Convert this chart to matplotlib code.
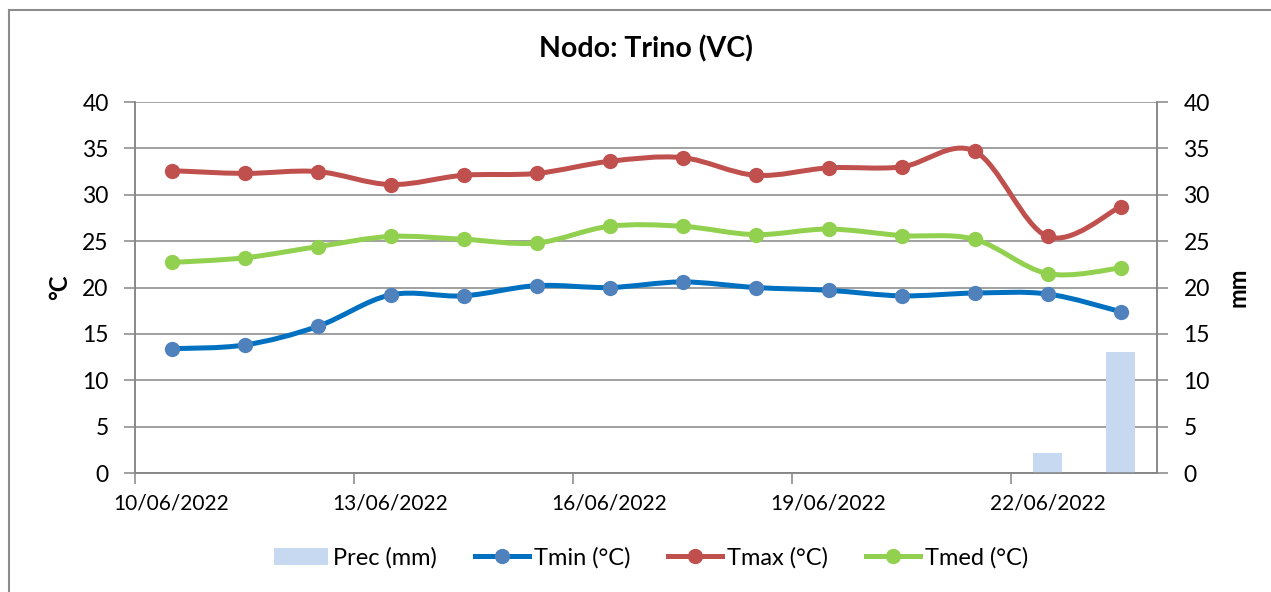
import matplotlib
matplotlib.use("Agg")
import matplotlib.pyplot as plt
import numpy as np
from matplotlib.path import Path
from matplotlib.patches import PathPatch, Patch
from matplotlib.lines import Line2D

plt.rcParams['font.family'] = ['Lato', 'DejaVu Sans']

dates = ["10/06/2022", "11/06/2022", "12/06/2022", "13/06/2022", "14/06/2022",
         "15/06/2022", "16/06/2022", "17/06/2022", "18/06/2022", "19/06/2022",
         "20/06/2022", "21/06/2022", "22/06/2022", "23/06/2022"]
prec = [0, 0, 0, 0, 0, 0, 0, 0, 0, 0, 0, 0, 2.2, 13.0]
tmin = [13.4, 13.8, 15.8, 19.2, 19.1, 20.2, 20.0, 20.6, 20.0, 19.7, 19.1, 19.4, 19.3, 17.4]
tmax = [32.6, 32.3, 32.5, 31.1, 32.1, 32.3, 33.6, 34.0, 32.1, 32.9, 33.0, 34.7, 25.5, 28.7]
tmed = [22.7, 23.2, 24.4, 25.5, 25.2, 24.8, 26.6, 26.6, 25.7, 26.3, 25.6, 25.2, 21.5, 22.1]

GRAY = '#868686'
FS = 16.5

fig = plt.figure(figsize=(12.71, 5.92), dpi=100)
W, H = 1271, 592
ax2 = fig.add_axes([135 / W, 1 - 473 / H, (1157 - 135) / W, (473 - 102) / H])
ax = ax2.twinx()
ax.set_zorder(ax2.get_zorder() + 1)
ax.patch.set_visible(False)

x = np.arange(len(dates))

# bars (secondary axis, mm)
ax2.bar(x, prec, width=0.4, color='#C6D9F1', zorder=3)
ax2.set_ylim(0, 40)
ax2.set_yticks(np.arange(0, 41, 5))
ax2.yaxis.grid(True, color=GRAY, lw=1.1, zorder=0)
ax2.set_axisbelow(True)


def smooth_path(xs, ys):
    pts = np.column_stack([xs, ys]).astype(float)
    n = len(pts)
    verts = [pts[0]]
    codes = [Path.MOVETO]
    for i in range(n - 1):
        p0 = pts[i - 1] if i > 0 else pts[i]
        p1 = pts[i]
        p2 = pts[i + 1]
        p3 = pts[i + 2] if i + 2 < n else pts[i + 1]
        c1 = p1 + (p2 - p0) / 6.0
        c2 = p2 - (p3 - p1) / 6.0
        verts += [c1, c2, p2]
        codes += [Path.CURVE4] * 3
    return Path(np.array(verts), codes)


series = [
    (tmin, '#0070C0', '#4F81BD', 'Tmin (°C)'),
    (tmax, '#C0504D', '#C0504D', 'Tmax (°C)'),
    (tmed, '#92D050', '#92D050', 'Tmed (°C)'),
]
for vals, lc, mc, lab in series:
    pp = PathPatch(smooth_path(x, vals), fill=False, edgecolor=lc, lw=3.6,
                   capstyle='round', joinstyle='round', zorder=3)
    ax.add_patch(pp)
    ax.plot(x, vals, 'o', color=mc, markersize=11, zorder=4, markeredgewidth=0)

ax.set_ylim(0, 40)
ax2.set_xlim(-0.5, len(dates) - 0.5)

# y axes: lines axes on left (°C), bars axes on right (mm)
ax.yaxis.set_ticks_position('left')
ax.yaxis.set_label_position('left')
ax2.yaxis.set_ticks_position('right')
ax2.yaxis.set_label_position('right')

ax.set_yticks(np.arange(0, 41, 5))
ax.tick_params(axis='y', labelsize=FS, length=8, width=1.1, color=GRAY, pad=11, direction='out')
ax2.tick_params(axis='y', labelsize=FS, length=8, width=1.1, color=GRAY, pad=11, direction='out')

# x axis (on bars axes): boundary tick marks every 3 categories, labels at categories
ax2.set_xticks(np.arange(-0.5, len(dates) - 0.5, 3))
ax2.set_xticklabels([])
ax2.set_xticks(x[::3], minor=True)
ax2.set_xticklabels([dates[i] for i in x[::3]], minor=True)
ax2.tick_params(axis='x', which='major', length=8, width=1.1, color=GRAY, direction='out')
ax2.tick_params(axis='x', which='minor', length=0, labelsize=15, pad=15)

for a in (ax, ax2):
    for s in a.spines.values():
        s.set_color(GRAY)
        s.set_linewidth(1.1)
    a.spines['top'].set_visible(False)

ax.set_ylabel('°C', fontsize=17, fontweight='bold', labelpad=8)
ax2.set_ylabel('mm', fontsize=17, fontweight='bold', labelpad=12)

fig.text(645.5 / W, 1 - 49 / H, 'Nodo: Trino (VC)', fontsize=20.5, fontweight='bold',
         ha='center', va='center')

handles = [
    Patch(facecolor='#C6D9F1', edgecolor='none', label='Prec (mm)'),
    Line2D([], [], color='#0070C0', lw=3.6, marker='o', markersize=11,
           markerfacecolor='#4F81BD', markeredgewidth=0, label='Tmin (°C)'),
    Line2D([], [], color='#C0504D', lw=3.6, marker='o', markersize=11,
           markerfacecolor='#C0504D', markeredgewidth=0, label='Tmax (°C)'),
    Line2D([], [], color='#92D050', lw=3.6, marker='o', markersize=11,
           markerfacecolor='#92D050', markeredgewidth=0, label='Tmed (°C)'),
]
fig.legend(handles=handles, loc='center', bbox_to_anchor=(651 / W, 1 - 558 / H),
           ncol=4, frameon=False, fontsize=FS + 0.5, handlelength=2.3, handleheight=0.75,
           handletextpad=0.2, columnspacing=1.6, numpoints=1)

# chart area border (top and left edges visible)
fig.add_artist(Line2D([9 / W, 9 / W], [0, 1 - 10 / H], color='#8c8c8c', lw=1.5,
                      transform=fig.transFigure))
fig.add_artist(Line2D([9 / W, 1], [1 - 10 / H, 1 - 10 / H], color='#8c8c8c', lw=1.5,
                      transform=fig.transFigure))

fig.savefig('out.png', dpi=100)
